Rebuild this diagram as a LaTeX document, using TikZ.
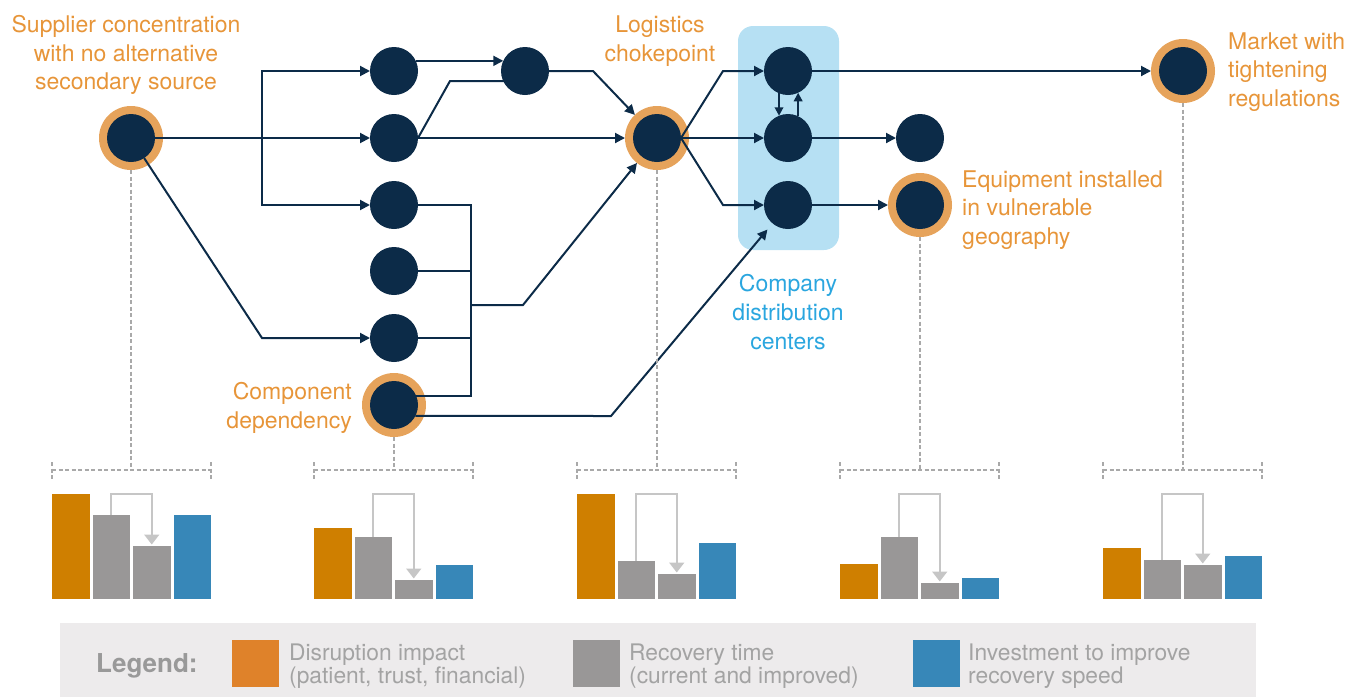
\documentclass[tikz,border=0pt]{standalone}
\usepackage{fontspec}
\setmainfont{TeX Gyre Heros}
\usetikzlibrary{arrows.meta,calc}

\definecolor{navy}{HTML}{0C2B48}
\definecolor{ringc}{HTML}{E6A35B}
\definecolor{lblorange}{HTML}{E79539}
\definecolor{lblblue}{HTML}{2AA6DF}
\definecolor{dcfill}{HTML}{B6E0F3}
\definecolor{barO}{HTML}{CF7F00}
\definecolor{barG}{HTML}{999797}
\definecolor{barB}{HTML}{3787B8}
\definecolor{legO}{HTML}{DF822A}
\definecolor{legbg}{HTML}{EDEBEC}
\definecolor{legtext}{HTML}{A3A3A3}
\definecolor{leghead}{HTML}{999999}
\definecolor{dashc}{HTML}{A9A9A9}
\definecolor{barrow}{HTML}{C6C6C6}

\begin{document}
\begin{tikzpicture}[x=1pt,y=-1pt,
  dot/.style={circle,fill=navy,minimum size=48pt,inner sep=0pt,outer sep=0pt},
  halo/.style={circle,fill=ringc,minimum size=64pt,inner sep=0pt,outer sep=0pt},
  ln/.style={draw=navy,line width=2pt},
  arr/.style={ln,-{Triangle[length=10pt,width=10pt]}},
  arrsm/.style={ln,-{Triangle[length=8.5pt,width=8.5pt]}},
  dsh/.style={draw=dashc,line width=1.1pt,dash pattern=on 4pt off 2.5pt},
  barr/.style={draw=barrow,line width=1.8pt,-{Triangle[length=10pt,width=15pt]}},
  lbl/.style={text=lblorange,font=\fontsize{23}{28.7}\selectfont,inner sep=0pt,align=center},
  legtxt/.style={text=legtext,font=\fontsize{22.8}{23.5}\selectfont,inner sep=0pt,align=left,anchor=west},
  swatch/.style={minimum size=47pt,inner sep=0pt}
]
\useasboundingbox (0,0) rectangle (1365,697);

% distribution-center panel and legend band
\node[fill=dcfill,rounded corners=15pt,minimum width=101pt,minimum height=224pt,inner sep=0pt] (DC) at (788.5,138) {};
\fill[legbg] (60,623) rectangle (1256,697);

% orange halos of the risk points
\node[halo] (Sr) at (131,138) {};
\node[halo] (Cr) at (394,405) {};
\node[halo] (Lr) at (657,138) {};
\node[halo] (Er) at (920,205) {};
\node[halo] (Mr) at (1183,71) {};

% network nodes
\node[dot] (S)  at (131,138) {};
\node[dot] (A1) at (394,71) {};
\node[dot] (A2) at (394,138) {};
\node[dot] (A3) at (394,205) {};
\node[dot] (A4) at (394,271) {};
\node[dot] (A5) at (394,338) {};
\node[dot] (C)  at (394,405) {};
\node[dot] (B)  at (525,71) {};
\node[dot] (L)  at (657,138) {};
\node[dot] (D1) at (788,71) {};
\node[dot] (D2) at (788,138) {};
\node[dot] (D3) at (788,205) {};
\node[dot] (X)  at (920,138) {};
\node[dot] (E)  at (920,205) {};
\node[dot] (M)  at (1183,71) {};

% supplier fan-out
\coordinate (b1t) at (262,71);
\coordinate (b1b) at (262,205);
\draw[arr] (S) -- (A2);
\draw[arr] (b1b) -- (b1t) -- (A1);
\draw[arr] (b1t) -- (b1b) -- (A3);
\draw[arr] (S) -- (262,338) -- (A5);

% second tier
\draw[arr] (A1.25) -- (B.155);
\draw[arr] (A2.east) -- (450,81) -- (B.-25);
\draw[arr] (A2) -- (Lr);
\draw[arr] (B) -- (593,71) -- (Lr);

% component collector bus
\coordinate (b2) at (471,305);
\draw[ln] (A3) -- (A3 -| b2) -- (C.22 -| b2) -- (C.22);
\draw[ln] (A4) -- (A4 -| b2);
\draw[ln] (A5) -- (A5 -| b2);
\draw[arr] (b2) -- (523,305) -- (Lr);
\draw[arr,shorten >=8pt] (C.-27) -- (611,416) -- (D3);

% logistics chokepoint to distribution centers
\draw[arr] (L.east) -- (723,71) -- (D1);
\draw[arr] (L) -- (D2);
\draw[arr] (L.east) -- (723,205) -- (D3);
\draw[arrsm] (D1.-112) -- (D2.112);
\draw[arrsm] (D2.65) -- (D1.-65);

% distribution to markets
\draw[arr] (D1) -- (Mr);
\draw[arr] (D2) -- (X);
\draw[arr] (D3) -- (Er);

% leaders down to the charts
\foreach \n/\cx in {Sr/131,Cr/394,Lr/657,Er/920,Mr/1183}{
  \coordinate (k\n) at (\cx,470);
  \draw[dsh] (\n.south) -- (k\n);
}

% bar charts: x0 / disruption / recovery now / recovery improved / investment
\foreach \xo/\ha/\hb/\hc/\hd in {52/494/515/546/515, 314/528/537/580/565, 577/494/561/574/543, 840/564/537/583/578, 1103/548/560/565/556}{
  \draw[dsh] (\xo,470) -- ({\xo+159},470);
  \draw[dsh] (\xo,462) -- (\xo,479);
  \draw[dsh] ({\xo+159},462) -- ({\xo+159},479);
  \fill[barO] (\xo,599) rectangle ({\xo+37.5},\ha);
  \fill[barG] ({\xo+40.5},599) rectangle ({\xo+78},\hb);
  \fill[barG] ({\xo+81},599) rectangle ({\xo+118.5},\hc);
  \fill[barB] ({\xo+121.5},599) rectangle ({\xo+159},\hd);
  \draw[barr] ({\xo+59.25},\hb) -- ({\xo+59.25},494) -- ({\xo+99.75},494) -- ({\xo+99.75},{\hc-1.5});
}

% labels
\node[lbl] (tS) at (126,55) {Supplier concentration\\with no alternative\\secondary source};
\node[lbl] (tL) at (660,41) {Logistics\\chokepoint};
\node[lbl,text=lblblue] (tD) at (788,312) {Company\\distribution\\centers};
\node[lbl,align=right,anchor=east] (tC) at (352,408) {Component\\dependency};
\node[lbl,align=left,anchor=west] (tE) at (962,210) {Equipment installed\\in vulnerable\\geography};
\node[lbl,align=left,anchor=west] (tM) at (1228,72) {Market with\\tightening\\regulations};

% legend
\node[anchor=west,inner sep=0pt,text=leghead,font=\fontsize{26}{28}\selectfont\bfseries] (lg) at (96,666) {Legend:};
\node[swatch,fill=legO] (k1) at (255.5,663.5) {};
\node[swatch,fill=barG] (k2) at (596.5,663.5) {};
\node[swatch,fill=barB] (k3) at (936.5,663.5) {};
\node[legtxt] (l1) at (289,666) {Disruption impact\\(patient, trust, financial)};
\node[legtxt] (l2) at (629,666) {Recovery time\\(current and improved)};
\node[legtxt] (l3) at (968,666) {Investment to improve\\recovery speed};
\end{tikzpicture}
\end{document}
